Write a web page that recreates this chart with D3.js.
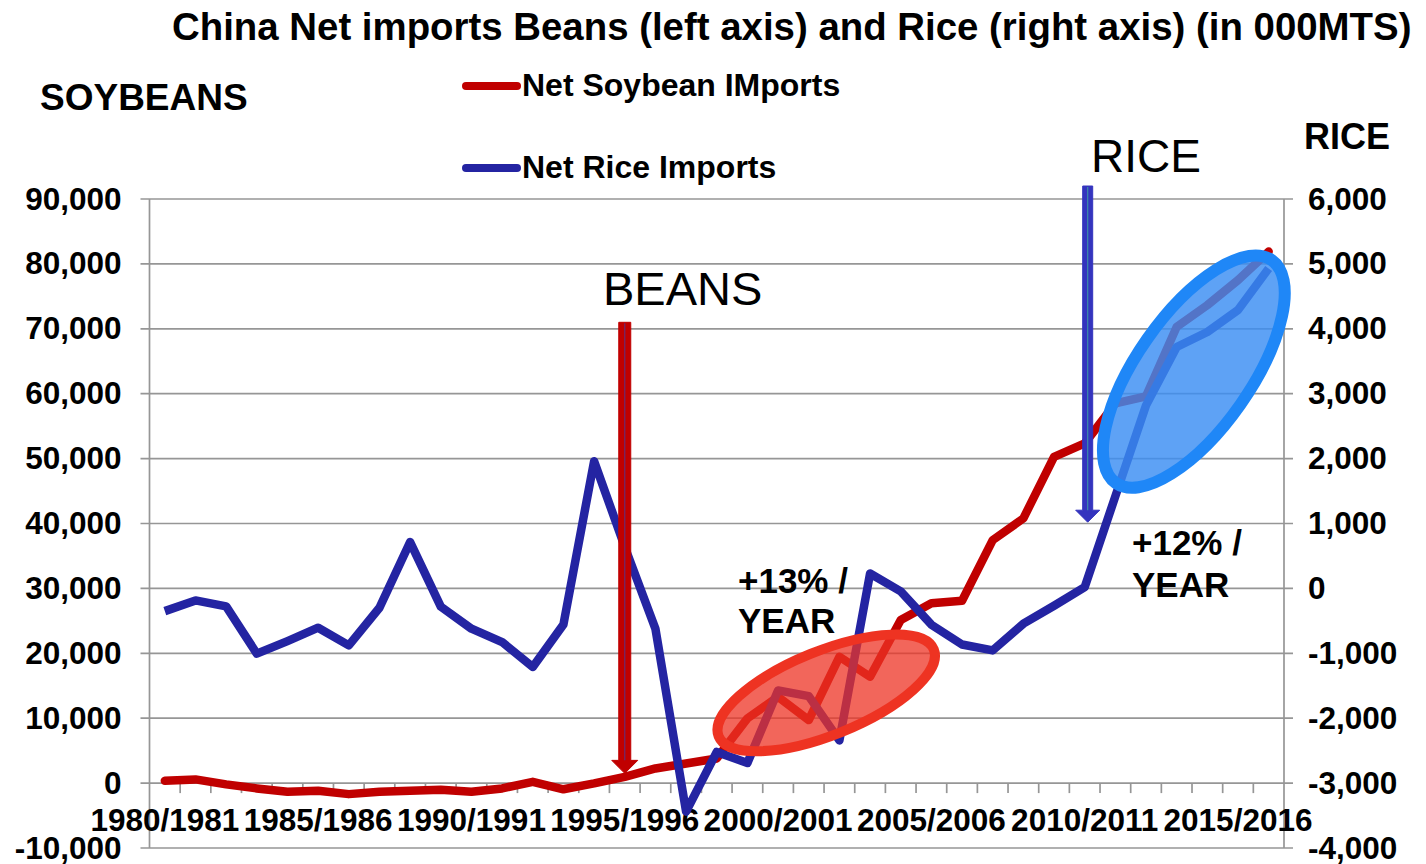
<!DOCTYPE html>
<html>
<head>
<meta charset="utf-8">
<script src="https://cdn.jsdelivr.net/npm/d3@7"></script>
<style>
  html, body { margin: 0; padding: 0; background: #ffffff; }
  svg { display: block; font-family: "Liberation Sans", Arial, sans-serif; }
</style>
</head>
<body>
<svg id="chart" width="1426" height="864"></svg>
<script>
// Marketing years on the category axis
const categories = [
  "1980/1981","1981/1982","1982/1983","1983/1984","1984/1985",
  "1985/1986","1986/1987","1987/1988","1988/1989","1989/1990",
  "1990/1991","1991/1992","1992/1993","1993/1994","1994/1995",
  "1995/1996","1996/1997","1997/1998","1998/1999","1999/2000",
  "2000/2001","2001/2002","2002/2003","2003/2004","2004/2005",
  "2005/2006","2006/2007","2007/2008","2008/2009","2009/2010",
  "2010/2011","2011/2012","2012/2013","2013/2014","2014/2015",
  "2015/2016","2016/2017"
];

// Labels printed under the axis (every fifth year)
const xTickLabels = ["1980/1981","1985/1986","1990/1991","1995/1996",
                     "2000/2001","2005/2006","2010/2011","2015/2016"];

// Net soybean imports, 000 MT (left axis)
const soybeanImports = [
  350, 570, -200, -820, -1340, -1190, -1700, -1340, -1190, -1030,
  -1340, -820, 200, -950, -50, 970, 2260, 3030, 3800, 9970,
  13300, 9710, 19460, 16380, 25120, 27700, 28100, 37440, 40790, 50280,
  52340, 58500, 59600, 70300, 73650, 77500, 81900
];

// Net rice imports, 000 MT (right axis)
const riceImports = [
  -350, -185, -277, -1006, -812, -606, -878, -298, 714, -280,
  -621, -827, -1212, -555, 1960, 640, -621, -3440, -2520, -2690,
  -1572, -1660, -2342, 230, -45, -560, -865, -955, -544, -267,
  20, 1420, 2820, 3720, 3950, 4290, 4930
];

// Axis ticks
const leftTicks  = [-10000, 0, 10000, 20000, 30000, 40000, 50000, 60000, 70000, 80000, 90000];
const rightTicks = [-4000, -3000, -2000, -1000, 0, 1000, 2000, 3000, 4000, 5000, 6000];

const seriesNames = ["Net Soybean IMports", "Net Rice Imports"];

const FONT = '"Liberation Sans", Arial, sans-serif';
const RED = "#C00000";
const BLUE = "#2424A2";
const GRID = "#969696";

const svg = d3.select("#chart");

const plot = { left: 149.5, right: 1284, top: 199, bottom: 848 };

const x = d3.scaleBand().domain(categories).range([plot.left, plot.right]).padding(0);
const bw = x.bandwidth();
const cx = c => x(c) + bw / 2;

const yL = d3.scaleLinear().domain([-10000, 90000]).range([plot.bottom, plot.top]);
const yR = d3.scaleLinear().domain([-4000, 6000]).range([plot.bottom, plot.top]);

const fmt = d3.formatLocale({ decimal: ".", thousands: ",", grouping: [3], currency: ["", ""], minus: "-" }).format(",");

// Horizontal gridlines (extend outward as the tick marks of both value axes)
svg.append("g").selectAll("line").data(leftTicks).join("line")
  .attr("x1", plot.left - 9).attr("x2", plot.right + 9)
  .attr("y1", d => yL(d)).attr("y2", d => yL(d))
  .attr("stroke", GRID).attr("stroke-width", 1.7);

// Vertical axis lines
svg.append("line").attr("x1", plot.left).attr("x2", plot.left)
  .attr("y1", plot.top).attr("y2", plot.bottom).attr("stroke", GRID).attr("stroke-width", 1.7);
svg.append("line").attr("x1", plot.right).attr("x2", plot.right)
  .attr("y1", plot.top).attr("y2", plot.bottom).attr("stroke", GRID).attr("stroke-width", 1.7);

// Category axis sits at zero on the left scale
const xAxisY = yL(0);
const xAxis = d3.axisBottom(x)
  .tickValues(xTickLabels)
  .tickSize(0)
  .tickPadding(0)
  .tickFormat(d => d);
const gx = svg.append("g").attr("transform", `translate(0,${xAxisY})`).call(xAxis);
gx.select(".domain").remove();
gx.selectAll("text")
  .attr("y", 48).attr("dy", null)
  .attr("fill", "#000").attr("font-family", FONT)
  .attr("font-size", 31.5).attr("font-weight", "bold");

// Tick marks at category boundaries
svg.append("g").selectAll("line").data(categories.slice(1)).join("line")
  .attr("x1", d => x(d)).attr("x2", d => x(d))
  .attr("y1", xAxisY).attr("y2", xAxisY + 10)
  .attr("stroke", GRID).attr("stroke-width", 1.7);

// Left value axis labels
const gyL = svg.append("g").attr("transform", `translate(${plot.left},0)`)
  .call(d3.axisLeft(yL).tickValues(leftTicks).tickSize(0).tickPadding(28).tickFormat(fmt));
gyL.select(".domain").remove();
gyL.selectAll("text").attr("fill", "#000").attr("font-family", FONT)
  .attr("font-size", 31.5).attr("font-weight", "bold");

// Right value axis labels
const gyR = svg.append("g").attr("transform", `translate(${plot.right},0)`)
  .call(d3.axisRight(yR).tickValues(rightTicks).tickSize(0).tickPadding(24).tickFormat(fmt));
gyR.select(".domain").remove();
gyR.selectAll("text").attr("fill", "#000").attr("font-family", FONT)
  .attr("font-size", 31.5).attr("font-weight", "bold");

// Series lines
const soyLine = d3.line().x((d, i) => cx(categories[i])).y(d => yL(d));
const riceLine = d3.line().x((d, i) => cx(categories[i])).y(d => yR(d));

svg.append("path").datum(soybeanImports).attr("d", soyLine)
  .attr("fill", "none").attr("stroke", RED).attr("stroke-width", 8.5)
  .attr("stroke-linejoin", "round").attr("stroke-linecap", "round");
svg.append("path").datum(riceImports).attr("d", riceLine)
  .attr("fill", "none").attr("stroke", BLUE).attr("stroke-width", 8.5)
  .attr("stroke-linejoin", "round").attr("stroke-linecap", "butt");

// Highlight ellipses (placed in data space)
const redCenter = { x: x(categories[21]) + 0.57 * bw + bw / 2, y: yL(13900) };
svg.append("ellipse")
  .attr("cx", redCenter.x).attr("cy", redCenter.y)
  .attr("rx", 116).attr("ry", 42)
  .attr("transform", `rotate(-22 ${redCenter.x} ${redCenter.y})`)
  .attr("fill", "#EE3324").attr("fill-opacity", 0.75)
  .attr("stroke", "#EE3322").attr("stroke-width", 10);

const blueCenter = { x: x(categories[33]) + 0.56 * bw + bw / 2, y: yR(3340) };
svg.append("ellipse")
  .attr("cx", blueCenter.x).attr("cy", blueCenter.y)
  .attr("rx", 136).attr("ry", 57)
  .attr("transform", `rotate(-55 ${blueCenter.x} ${blueCenter.y})`)
  .attr("fill", "#3A8EF3").attr("fill-opacity", 0.82)
  .attr("stroke", "#1F87F7").attr("stroke-width", 12);

// Block arrows
function blockArrow(xc, yTop, yTip, shaftW, headW, headL, fill, inner) {
  const hs = shaftW / 2, hh = headW / 2, yHead = yTip - headL;
  const pts = [
    [xc - hs, yTop], [xc + hs, yTop], [xc + hs, yHead], [xc + hh, yHead],
    [xc, yTip], [xc - hh, yHead], [xc - hs, yHead]
  ];
  svg.append("polygon").attr("points", pts.map(p => p.join(",")).join(" "))
    .attr("fill", fill).attr("stroke", fill).attr("stroke-width", 1);
  svg.append("line").attr("x1", xc).attr("x2", xc).attr("y1", yTop + 1).attr("y2", yHead)
    .attr("stroke", inner).attr("stroke-width", 1.2);
}
blockArrow(cx(categories[15]), yL(71000), yL(1500), 12, 26, 13, "#C00000", "#6A2A70");
blockArrow(cx(categories[30]) + 3, yR(6200), yR(1020), 10, 24, 12, "#3434BE", "#3C8CA8");

// Text
const addText = (t, xPos, yPos, size, weight, anchor) =>
  svg.append("text").text(t).attr("x", xPos).attr("y", yPos)
    .attr("font-family", FONT).attr("font-size", size)
    .attr("font-weight", weight).attr("text-anchor", anchor || "start").attr("fill", "#000");

addText("China Net imports Beans (left axis) and Rice (right axis) (in 000MTS)", 172, 40, 38.4, "bold");
addText("SOYBEANS", 40, 110, 37, "bold");
addText("RICE", 1304, 149, 36, "bold");
addText("BEANS", 603, 305, 47, "normal");
addText("RICE", 1091, 172, 46, "normal");
addText("+13% /", 738, 593, 35, "bold");
addText("YEAR", 738, 633, 35, "bold");
addText("+12% /", 1132, 555, 35, "bold");
addText("YEAR", 1132, 597, 35, "bold");

// Legend
const legend = [
  { name: seriesNames[0], color: RED, y: 86 },
  { name: seriesNames[1], color: BLUE, y: 168 }
];
legend.forEach(l => {
  svg.append("line").attr("x1", 466).attr("x2", 517).attr("y1", l.y).attr("y2", l.y)
    .attr("stroke", l.color).attr("stroke-width", 8).attr("stroke-linecap", "round");
  addText(l.name, 522, l.y + 10, 32, "bold");
});
</script>
</body>
</html>
